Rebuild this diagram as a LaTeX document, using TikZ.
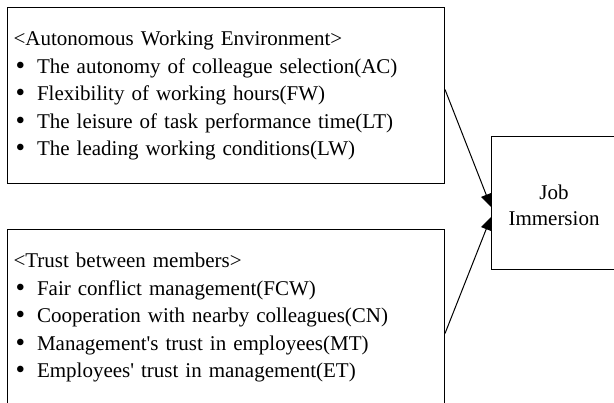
\documentclass[tikz,border=0pt]{standalone}
\usepackage{fontspec}
\setmainfont{Liberation Serif}[WordSpace=1.9,Ligatures=TeXOff]
\usetikzlibrary{arrows.meta,positioning}

\newcommand{\factoritem}[1]{\hspace*{2pt}\raisebox{-1pt}{\scalebox{1.3}{\textbullet}}\hspace{12pt}#1}

\begin{document}
\begin{tikzpicture}[x=1pt,y=-1pt,
  factorbox/.style={draw=black,line width=1pt,minimum width=437pt,minimum height=176pt,
    text width=425pt,inner xsep=6pt,inner ysep=0pt,align=left,anchor=north west,
    font=\fontsize{21pt}{27.5pt}\selectfont},
  resultbox/.style={draw=black,line width=1pt,minimum width=160pt,minimum height=133pt,
    anchor=north west},
  link/.style={line width=1pt,-{Triangle[length=13pt,width=11pt]}}]

  \clip (0,0) rectangle (614,403);

  % the two groups of factors
  \node[factorbox] (autobox) at (7,7) {%
    <Autonomous Working Environment>\\
    \factoritem{The autonomy of colleague selection(AC)}\\
    \factoritem{Flexibility of working hours(FW)}\\
    \factoritem{The leisure of task performance time(LT)}\\
    \factoritem{The leading working conditions(LW)}};
  \node[factorbox] (trustbox) at (7,229) {%
    <Trust between members>\\
    \factoritem{Fair conflict management(FCW)}\\
    \factoritem{Cooperation with nearby colleagues(CN)}\\
    \factoritem{Management's trust in employees(MT)}\\
    \factoritem{Employees' trust in management(ET)}};

  % outcome
  \node[resultbox] (jobbox) at (491,136) {};
  \node[align=center,font=\fontsize{21pt}{26pt}\selectfont] (job) at (554,205) {Job\\Immersion};

  \draw[link] ([yshift=6pt]autobox.east) -- ([yshift=-4pt]jobbox.west);
  \draw[link] ([yshift=-16pt]trustbox.east) -- ([yshift=-14pt]jobbox.west);

\end{tikzpicture}
\end{document}
